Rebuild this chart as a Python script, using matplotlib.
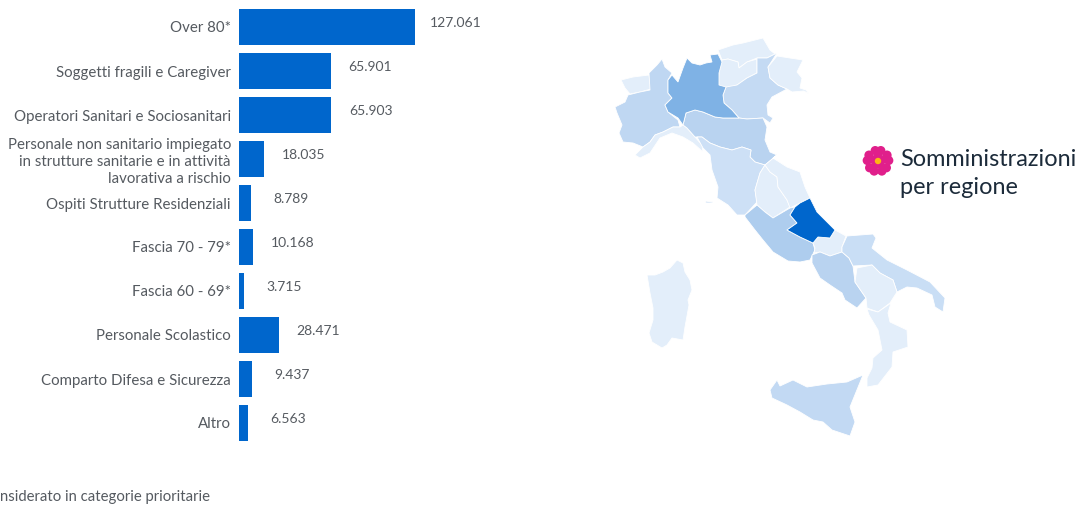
import matplotlib
matplotlib.use("Agg")
import matplotlib.pyplot as plt
from matplotlib.patches import Polygon, Circle, Ellipse
import numpy as np

plt.rcParams["font.family"] = ["Lato", "DejaVu Sans"]

# Somministrazioni per categoria
categorie = [
    "Over 80*",
    "Soggetti fragili e Caregiver",
    "Operatori Sanitari e Sociosanitari",
    "Personale non sanitario impiegato\nin strutture sanitarie e in attività\nlavorativa a rischio",
    "Ospiti Strutture Residenziali",
    "Fascia 70 - 79*",
    "Fascia 60 - 69*",
    "Personale Scolastico",
    "Comparto Difesa e Sicurezza",
    "Altro",
]
valori = [127061, 65901, 65903, 18035, 8789, 10168, 3715, 28471, 9437, 6563]
etichette = ["127.061", "65.901", "65.903", "18.035", "8.789", "10.168", "3.715", "28.471", "9.437", "6.563"]

# Contorni delle regioni (pixel dell'immagine)
valle_aosta = [(621, 80), (633, 77), (649, 75), (651, 89), (640, 92), (630, 94), (625, 88)]
piemonte = [(662, 59), (665, 67), (672, 73), (668, 80), (668, 93), (672, 98), (665, 105), (668, 112), (678, 120),
            (680, 127), (673, 127), (663, 132), (655, 135), (650, 142), (643, 147), (633, 143), (623, 142), (619, 133),
            (622, 125), (617, 113), (615, 107), (625, 102), (628, 95), (640, 92), (650, 90), (649, 73), (657, 65)]
lombardia = [(710, 55), (718, 54), (722, 62), (719, 73), (719, 85), (726, 87), (723, 95), (724, 103), (732, 110),
             (739, 118), (723, 118), (715, 117), (703, 112), (695, 110), (686, 113), (683, 125), (678, 118), (668, 112),
             (665, 105), (672, 98), (668, 93), (668, 80), (672, 75), (678, 82), (683, 68), (687, 58), (692, 63),
             (700, 65), (706, 63), (712, 62)]
alto_adige = [(718, 50), (733, 45), (743, 43), (763, 38), (770, 50), (775, 54), (767, 58), (757, 58), (747, 62),
              (739, 68), (738, 62), (728, 59), (722, 60)]
trentino = [(722, 60), (728, 59), (738, 62), (739, 68), (747, 62), (757, 59), (757, 73), (747, 78), (737, 85),
            (725, 91), (718, 85), (719, 73)]
veneto = [(777, 53), (768, 67), (770, 78), (778, 85), (787, 89), (772, 97), (767, 105), (768, 115), (773, 118),
          (770, 123), (763, 118), (747, 119), (739, 118), (732, 110), (724, 103), (723, 95), (726, 87), (737, 85),
          (747, 78), (757, 73), (757, 58), (767, 58)]
friuli = [(768, 67), (777, 56), (803, 60), (797, 72), (802, 78), (800, 88), (806, 90), (809, 94), (804, 91),
          (792, 92), (787, 89), (778, 85), (770, 78)]
emilia = [(686, 113), (695, 110), (703, 112), (715, 117), (723, 118), (739, 118), (747, 119), (763, 118), (767, 127),
          (765, 140), (770, 152), (777, 155), (765, 165), (755, 162), (750, 157), (751, 150), (742, 147), (732, 150),
          (720, 147), (710, 143), (702, 137), (695, 137), (687, 128), (683, 125)]
liguria = [(683, 125), (687, 128), (695, 137), (702, 145), (703, 152), (693, 143), (683, 137), (672, 133), (660, 138),
           (650, 153), (640, 158), (635, 155), (643, 147), (650, 142), (655, 135), (663, 132), (673, 127), (680, 127)]
toscana = [(697, 137), (702, 137), (710, 143), (720, 147), (732, 150), (742, 147), (751, 150), (750, 157), (755, 162),
           (765, 165), (760, 173), (755, 190), (757, 202), (745, 215), (737, 215), (728, 205), (717, 198), (718, 187),
           (712, 170), (710, 155), (703, 148)]
elba = [(705, 201), (713, 202), (713, 203), (706, 203)]
umbria = [(765, 165), (770, 172), (777, 177), (778, 187), (787, 200), (790, 207), (773, 218), (765, 212), (757, 205),
          (755, 190), (760, 173)]
marche = [(777, 155), (773, 158), (787, 167), (800, 172), (805, 187), (810, 198), (800, 203), (790, 208), (787, 200),
          (778, 187), (777, 177), (770, 172), (765, 165)]
abruzzo = [(810, 198), (817, 212), (835, 230), (830, 238), (818, 237), (813, 243), (800, 237), (787, 230), (797, 223),
           (790, 215), (795, 207), (800, 203)]
lazio = [(745, 215), (757, 205), (765, 212), (773, 218), (790, 208), (795, 207), (790, 215), (797, 223), (787, 230),
         (800, 237), (813, 243), (815, 250), (810, 260), (800, 262), (788, 261), (773, 252), (763, 240), (755, 230),
         (745, 217)]
molise = [(835, 230), (846, 236), (842, 247), (842, 252), (830, 256), (820, 252), (814, 253), (815, 248), (813, 243),
          (818, 237), (830, 238)]
puglia = [(847, 236), (873, 234), (876, 238), (872, 248), (887, 260), (907, 270), (930, 282), (945, 298), (943, 312),
          (935, 307), (932, 295), (917, 288), (907, 287), (897, 292), (893, 280), (880, 273), (872, 265), (853, 266),
          (849, 258), (842, 252), (842, 247)]
basilicata = [(857, 268), (872, 265), (880, 273), (893, 280), (897, 292), (890, 303), (878, 312), (867, 308),
              (866, 298), (855, 282)]
campania = [(812, 255), (820, 252), (830, 256), (842, 252), (849, 258), (853, 266), (855, 282), (866, 298), (857, 308),
            (845, 300), (842, 293), (830, 285), (820, 278), (812, 263)]
calabria = [(867, 309), (878, 312), (891, 303), (888, 313), (890, 322), (907, 330), (908, 347), (893, 352), (892, 367),
            (878, 385), (867, 387), (867, 378), (872, 368), (873, 358), (882, 350), (878, 330), (869, 315)]
sicilia = [(770, 390), (777, 380), (780, 386), (793, 380), (807, 387), (827, 384), (847, 382), (863, 375), (850, 407),
           (855, 422), (850, 436), (832, 430), (823, 422), (813, 420), (800, 412), (787, 405), (772, 398)]
sardegna = [(647, 275), (655, 275), (663, 272), (670, 268), (677, 260), (683, 263), (685, 272), (690, 280), (692, 290),
            (688, 300), (689, 305), (685, 327), (683, 340), (672, 338), (667, 345), (662, 348), (652, 342), (649, 333),
            (653, 320), (653, 308), (650, 293)]

regioni = [
    (valle_aosta, "#e3eefa"), (piemonte, "#bfd7f2"), (liguria, "#e3eefa"), (alto_adige, "#e3eefa"),
    (trentino, "#e3eefa"), (veneto, "#c4daf3"), (friuli, "#e3eefa"), (emilia, "#b9d3f0"), (toscana, "#cde0f6"),
    (elba, "#cde0f6"), (umbria, "#e3eefa"), (marche, "#e3eefa"), (lazio, "#aecdee"), (molise, "#e3eefa"),
    (campania, "#b9d3f0"), (puglia, "#c9def5"), (basilicata, "#e3eefa"), (calabria, "#e3eefa"),
    (sicilia, "#c2d9f3"), (sardegna, "#e3eefa"), (lombardia, "#7fb2e5"), (abruzzo, "#0066cc"),
]

fig = plt.figure(figsize=(10.81, 5.11), dpi=100)

# Mappa e testi liberi, in pixel dell'immagine
mappa = fig.add_axes([0, 0, 1, 1])
mappa.set_xlim(0, 1081)
mappa.set_ylim(511, 0)
mappa.axis("off")
for contorno, colore in regioni:
    mappa.add_patch(Polygon(contorno, closed=True, facecolor=colore, edgecolor="white", linewidth=0.6))

# Fiore della legenda
cx, cy = 878, 161
for ang in np.deg2rad([-90, -18, 54, 126, 198]):
    ux, uy = np.cos(ang), np.sin(ang)
    mappa.add_patch(Ellipse((cx + 6 * ux, cy + 6 * uy), 12, 8, angle=np.rad2deg(ang), color="#e01f8b", lw=0))
    for lato in (-1, 1):
        mappa.add_patch(Circle((cx + 10.4 * ux - lato * 2.8 * uy, cy + 10.4 * uy + lato * 2.8 * ux), 4.6,
                               color="#e01f8b", lw=0))
mappa.add_patch(Circle((cx, cy), 3.2, color="#fdb515", lw=0, zorder=5))
mappa.text(900, 160, "Somministrazioni", fontsize=16.9, color="#1c2b3a", va="center", ha="left")
mappa.text(900, 187.5, "per regione", fontsize=16.9, color="#1c2b3a", va="center", ha="left")
mappa.text(0, 497, "nsiderato in categorie prioritarie", fontsize=10.7, color="#555a60", va="center", ha="left")

# Barre
ax = fig.add_axes([239 / 1081, 1 - 445 / 511, 176.5 / 1081, 440 / 511])
ax.patch.set_alpha(0)
y = np.arange(len(categorie))
ax.barh(y, valori, height=36 / 44, color="#0066cc")
ax.set_xlim(0, 127061)
ax.set_ylim(9.5, -0.5)
ax.set_xticks([])
ax.set_yticks(y)
ax.set_yticklabels(categorie, fontsize=10.8, color="#555a60", linespacing=1.25)
ax.tick_params(axis="y", length=0, pad=5.8)
for lato in ax.spines.values():
    lato.set_visible(False)
for i, (v, testo) in enumerate(zip(valori, etichette)):
    ax.annotate(testo, (v, i), xytext=(28.8, 3.0), textcoords="offset points", ha="center", va="center",
                fontsize=10, color="#555a60", annotation_clip=False)

fig.savefig("out.png", dpi=100)
plt.close(fig)
